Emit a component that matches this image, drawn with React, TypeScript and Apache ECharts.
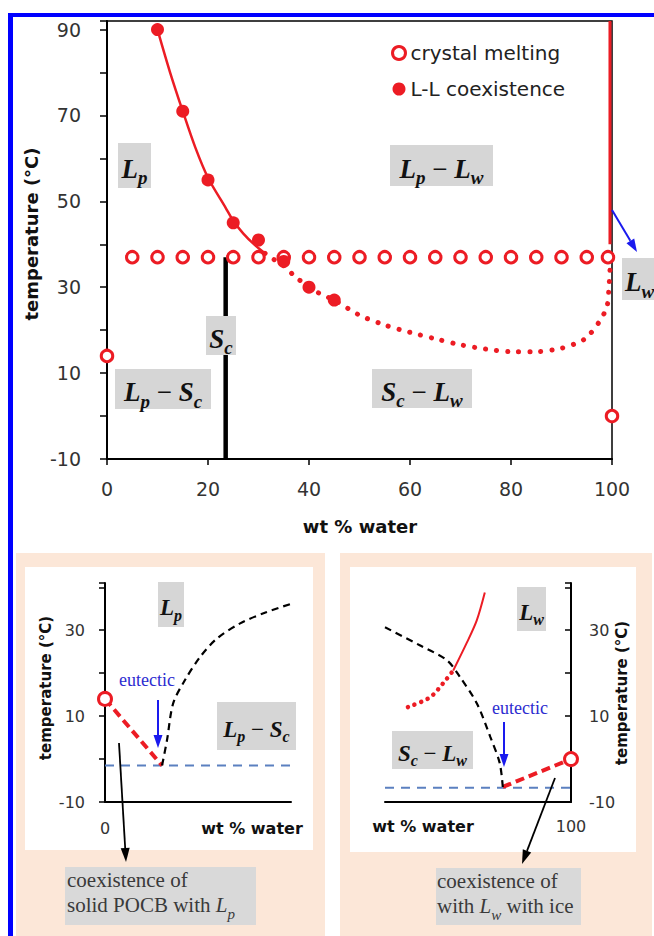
import React, { useEffect, useRef } from 'react';
import * as echarts from 'echarts';

const RED = '#ec1c24';
const BLUE = '#1a1aee';
const DASH_BLUE = '#5b80c0';
const SANS = 'DejaVu Sans';
const SERIF = 'Liberation Serif';

// ---- main diagram data ----
const crystalMelting: number[][] = [
  [0, 14], [5, 37], [10, 37], [15, 37], [20, 37], [25, 37], [30, 37], [35, 37], [40, 37], [45, 37],
  [50, 37], [55, 37], [60, 37], [65, 37], [70, 37], [75, 37], [80, 37], [85, 37], [90, 37], [95, 37],
  [99.2, 37], [100, 0],
];
const llCoexistence: number[][] = [
  [10, 90], [15, 71], [20, 55], [25, 45], [30, 41], [35, 36], [40, 30], [45, 27],
];
const llSolidFit: number[][] = [
  [10, 90], [12.5, 80], [15, 71], [17.5, 62.5], [20, 55.5], [23.5, 48.5], [25, 45.5], [27, 42.5], [29.3, 39.8], [31.3, 37.9],
];
const llDottedFit: number[][] = [
  [31.3, 37.9], [33, 36.5], [35, 35], [37.6, 32.1], [40, 30.3], [42, 28.6], [45, 27], [50, 23.5], [55, 21.2],
  [60, 19.5], [65, 18], [70, 16.6], [75, 15.6], [80, 15], [85, 15], [90, 15.8], [93, 17], [95, 18.3],
  [97.5, 22], [99, 25.5], [99.4, 30], [99.6, 34], [99.7, 37],
];
const waterEdge: number[][] = [[99.6, 40], [99.6, 92]];
const scPhase: number[][] = [[23.5, -10], [23.5, 37]];
const mainYLabels = [-10, 10, 30, 50, 70, 90];
const mainXLabels = [0, 20, 40, 60, 80, 100];

// ---- left inset data ----
const leftMelt: number[][] = [[0, 14]];
const leftLiquidus: number[][] = [[0, 14], [9.2, -1.5]];
const leftSolubility: number[][] = [
  [9.2, -1.5], [10, 4.4], [11, 13], [12.9, 18.4], [15.3, 23.7], [18, 28], [21.8, 31.6], [26, 34.2], [30.8, 36.5],
];
const leftEutectic: number[][] = [[0, -1.5], [30, -1.5]];
const insetYLabels = [-10, 10, 30];

// ---- right inset data ----
const rightMelt: number[][] = [[100, 0]];
const rightLiquidus: number[][] = [[89, -6.5], [100, 0]];
const rightSolubility: number[][] = [
  [70, 30.7], [75.6, 26.5], [80, 23], [82.1, 19.1], [84.8, 13], [87, 5.1], [88.5, -0.9], [89, -6.5],
];
const rightLLSolid: number[][] = [[81, 20.6], [83.2, 27.1], [84.8, 32.3], [86.1, 38.8]];
const rightLLDotted: number[][] = [[73.7, 12.1], [77.3, 14.4], [79.4, 17.7], [81, 20.6]];
const rightEutectic: number[][] = [[70, -6.7], [100, -6.7]];

function mathRich(F: number) {
  const fs = Math.round(F * 0.7);
  const d = Math.round(F * 0.33 + F / 2 - fs / 2);
  return {
    m: { fontFamily: SERIF, fontStyle: 'italic', fontWeight: 'bold', fontSize: F, lineHeight: F, verticalAlign: 'top', fill: '#111' },
    s: { fontFamily: SERIF, fontStyle: 'italic', fontWeight: 'bold', fontSize: fs, lineHeight: fs, verticalAlign: 'top', padding: [d, 0, 0, 0], fill: '#111' },
    o: { fontFamily: SERIF, fontSize: F, lineHeight: F, verticalAlign: 'top', fill: '#111' },
  };
}

function labelBox(x: number, y: number, w: number, h: number, text: string, F: number, leftAlign = false) {
  return [
    { type: 'rect', shape: { x, y, width: w, height: h }, style: { fill: '#d6d6d6' }, z: 10 },
    {
      type: 'text', z: 11, x: leftAlign ? x + 3 : x + w / 2, y: y + h / 2 + 3,
      style: { text, rich: mathRich(F), align: leftAlign ? 'left' : 'center', verticalAlign: 'middle' },
    },
  ];
}

function arrow(x1: number, y1: number, x2: number, y2: number, color: string, w: number, hl: number, hw: number) {
  const ang = Math.atan2(y2 - y1, x2 - x1);
  const bx = x2 - hl * Math.cos(ang);
  const by = y2 - hl * Math.sin(ang);
  const px = -Math.sin(ang);
  const py = Math.cos(ang);
  return [
    { type: 'line', shape: { x1, y1, x2: bx, y2: by }, style: { stroke: color, lineWidth: w }, z: 20 },
    {
      type: 'polygon', z: 20,
      shape: { points: [[x2, y2], [bx + (px * hw) / 2, by + (py * hw) / 2], [bx - (px * hw) / 2, by - (py * hw) / 2]] },
      style: { fill: color },
    },
  ];
}

function plainText(x: number, y: number, text: string, font: object, rotation = 0) {
  return { type: 'text', z: 12, x, y, rotation, style: { text, align: 'center', verticalAlign: 'middle', ...font } };
}

const boxRich = {
  t: { fontFamily: SERIF, fontSize: 21, lineHeight: 25, verticalAlign: 'top', fill: '#3a3a3a' },
  i: { fontFamily: SERIF, fontStyle: 'italic', fontSize: 21, lineHeight: 25, verticalAlign: 'top', fill: '#3a3a3a' },
  s: { fontFamily: SERIF, fontStyle: 'italic', fontSize: 15, lineHeight: 15, verticalAlign: 'top', padding: [12, 0, 0, 0], fill: '#3a3a3a' },
};

export default function App() {
  const ref = useRef<HTMLDivElement>(null);
  useEffect(() => {
    if (!ref.current) return;
    const chart = echarts.init(ref.current, null, { renderer: 'svg' });
    const axisLineStyle = { onZero: false, lineStyle: { color: '#000', width: 2 } };
    const insetYFormatter = (v: number) => (insetYLabels.includes(v) ? String(v) : '');
    const titleFont = (size: number) => ({ fontFamily: SANS, fontWeight: 'bold', fontSize: size, fill: '#111' });
    const option: any = {
      animation: false,
      backgroundColor: '#fff',
      textStyle: { fontFamily: SANS },
      legend: {
        orient: 'vertical', left: 386, top: 36, itemWidth: 13, itemHeight: 13, itemGap: 12,
        selectedMode: false,
        textStyle: { fontSize: 20, color: '#222', fontFamily: SANS, lineHeight: 24 },
        data: [
          { name: 'crystal melting', icon: 'circle', itemStyle: { color: '#fff', borderColor: RED, borderWidth: 3 } },
          { name: 'L-L coexistence', icon: 'circle', itemStyle: { color: RED } },
        ],
      },
      grid: [
        { left: 107, top: 21, width: 505, height: 438, show: true, borderColor: '#000', borderWidth: 1.5, backgroundColor: 'transparent' },
        { left: 105, top: 583, width: 186, height: 219 },
        { left: 385, top: 583, width: 186, height: 219 },
      ],
      xAxis: [
        {
          gridIndex: 0, type: 'value', min: 0, max: 100, interval: 20,
          axisLine: axisLineStyle, axisTick: { length: 6, lineStyle: { color: '#000', width: 1.5 } },
          axisLabel: { fontSize: 19, color: '#333', margin: 20, formatter: (v: number) => (mainXLabels.includes(v) ? String(v) : '') },
          splitLine: { show: false },
        },
        {
          gridIndex: 1, type: 'value', min: 0, max: 30, interval: 30,
          axisLine: axisLineStyle, axisTick: { show: false },
          axisLabel: { fontSize: 16, color: '#333', margin: 18, formatter: (v: number) => (v === 0 ? '0' : '') },
          splitLine: { show: false },
        },
        {
          gridIndex: 2, type: 'value', min: 70, max: 100, interval: 30,
          axisLine: axisLineStyle, axisTick: { show: false },
          axisLabel: { fontSize: 16, color: '#333', margin: 16, formatter: (v: number) => (v === 100 ? '100' : '') },
          splitLine: { show: false },
        },
      ],
      yAxis: [
        {
          gridIndex: 0, type: 'value', min: -10, max: 92, interval: 10,
          axisLine: { show: true, ...axisLineStyle }, axisTick: { show: true, length: 7, lineStyle: { color: '#000', width: 1.5 } },
          axisLabel: { fontSize: 19, color: '#333', margin: 26, formatter: (v: number) => (mainYLabels.includes(v) ? String(v) : '') },
          splitLine: { show: false },
        },
        {
          gridIndex: 1, type: 'value', min: -10, max: 41, interval: 10,
          axisLine: { show: true, ...axisLineStyle }, axisTick: { show: true, length: 6, lineStyle: { color: '#000', width: 1.5 } },
          axisLabel: { fontSize: 16, color: '#333', margin: 20, formatter: insetYFormatter },
          splitLine: { show: false },
        },
        {
          gridIndex: 2, type: 'value', position: 'right', min: -10, max: 41, interval: 10,
          axisLine: { show: true, ...axisLineStyle }, axisTick: { show: true, inside: true, length: 6, lineStyle: { color: '#000', width: 1.5 } },
          axisLabel: { fontSize: 16, color: '#333', margin: 18, formatter: insetYFormatter },
          splitLine: { show: false },
        },
      ],
      series: [
        // main
        { name: 'Sc', type: 'line', xAxisIndex: 0, yAxisIndex: 0, data: scPhase, showSymbol: false, lineStyle: { color: '#000', width: 4.5 }, z: 3 },
        { name: 'water edge', type: 'line', xAxisIndex: 0, yAxisIndex: 0, data: waterEdge, showSymbol: false, lineStyle: { color: RED, width: 3 }, z: 3 },
        { name: 'LL fit', type: 'line', xAxisIndex: 0, yAxisIndex: 0, data: llSolidFit, smooth: 0.3, showSymbol: false, lineStyle: { color: RED, width: 2.5 }, z: 3 },
        { name: 'LL dotted', type: 'line', xAxisIndex: 0, yAxisIndex: 0, data: llDottedFit, smooth: 0.3, showSymbol: false, lineStyle: { color: RED, width: 5, type: [0.1, 11], cap: 'round' }, z: 3 },
        { name: 'crystal melting', type: 'scatter', xAxisIndex: 0, yAxisIndex: 0, data: crystalMelting, symbolSize: 11.5, itemStyle: { color: '#fff', borderColor: RED, borderWidth: 3, opacity: 1 }, z: 4 },
        { name: 'L-L coexistence', type: 'scatter', xAxisIndex: 0, yAxisIndex: 0, data: llCoexistence, symbolSize: 13, itemStyle: { color: RED, opacity: 1 }, z: 5 },
        // left inset
        { name: 'left eutectic', type: 'line', xAxisIndex: 1, yAxisIndex: 1, data: leftEutectic, showSymbol: false, lineStyle: { color: DASH_BLUE, width: 2, type: [9, 7] }, z: 3 },
        { name: 'left liquidus', type: 'line', xAxisIndex: 1, yAxisIndex: 1, data: leftLiquidus, showSymbol: false, lineStyle: { color: RED, width: 4, type: [9, 5] }, z: 3 },
        { name: 'left solubility', type: 'line', xAxisIndex: 1, yAxisIndex: 1, data: leftSolubility, smooth: 0.3, clip: false, showSymbol: false, lineStyle: { color: '#000', width: 2.2, type: [7, 5] }, z: 3 },
        { name: 'left melt', type: 'scatter', xAxisIndex: 1, yAxisIndex: 1, data: leftMelt, symbolSize: 13, clip: false, itemStyle: { color: '#fff', borderColor: RED, borderWidth: 3, opacity: 1 }, z: 4 },
        // right inset
        { name: 'right eutectic', type: 'line', xAxisIndex: 2, yAxisIndex: 2, data: rightEutectic, showSymbol: false, lineStyle: { color: DASH_BLUE, width: 2, type: [9, 7] }, z: 3 },
        { name: 'right liquidus', type: 'line', xAxisIndex: 2, yAxisIndex: 2, data: rightLiquidus, showSymbol: false, lineStyle: { color: RED, width: 4, type: [9, 5] }, z: 3 },
        { name: 'right solubility', type: 'line', xAxisIndex: 2, yAxisIndex: 2, data: rightSolubility, smooth: 0.3, clip: false, showSymbol: false, lineStyle: { color: '#000', width: 2.2, type: [7, 5] }, z: 3 },
        { name: 'right LL', type: 'line', xAxisIndex: 2, yAxisIndex: 2, data: rightLLSolid, smooth: 0.3, showSymbol: false, lineStyle: { color: RED, width: 2 }, z: 3 },
        { name: 'right LL dotted', type: 'line', xAxisIndex: 2, yAxisIndex: 2, data: rightLLDotted, smooth: 0.3, showSymbol: false, lineStyle: { color: RED, width: 4.5, type: [0.1, 7], cap: 'round' }, z: 3 },
        { name: 'right melt', type: 'scatter', xAxisIndex: 2, yAxisIndex: 2, data: rightMelt, symbolSize: 13, clip: false, itemStyle: { color: '#fff', borderColor: RED, borderWidth: 3, opacity: 1 }, z: 4 },
      ],
      graphic: [
        // frame & panels
        { type: 'rect', z: -5, shape: { x: 16, y: 553, width: 309, height: 383 }, style: { fill: '#fce7d8' } },
        { type: 'rect', z: -5, shape: { x: 340, y: 553, width: 312, height: 383 }, style: { fill: '#fce7d8' } },
        { type: 'rect', z: -4, shape: { x: 25, y: 567, width: 288, height: 283 }, style: { fill: '#ffffff' } },
        { type: 'rect', z: -4, shape: { x: 350, y: 567, width: 286, height: 285 }, style: { fill: '#ffffff' } },
        { type: 'rect', z: 30, shape: { x: 8, y: 13, width: 646, height: 4 }, style: { fill: '#0000ff' } },
        { type: 'rect', z: 30, shape: { x: 8, y: 13, width: 5, height: 923 }, style: { fill: '#0000ff' } },
        // axis titles
        plainText(31, 234, 'temperature (°C)', titleFont(18), Math.PI / 2),
        plainText(360, 526, 'wt % water', titleFont(18)),
        plainText(46, 688, 'temperature (°C)', titleFont(15), Math.PI / 2),
        plainText(622, 693, 'temperature (°C)', titleFont(15), Math.PI / 2),
        plainText(252, 828, 'wt % water', titleFont(16)),
        plainText(423, 826, 'wt % water', titleFont(16)),
        // eutectic
        plainText(147, 680, 'eutectic', { fontFamily: SERIF, fontSize: 18, fill: '#2c2cd0' }),
        plainText(520, 708, 'eutectic', { fontFamily: SERIF, fontSize: 18, fill: '#2c2cd0' }),
        ...arrow(158, 700, 158, 748, BLUE, 2, 13, 9),
        ...arrow(504, 722, 504, 767, BLUE, 2, 13, 9),
        ...arrow(612, 210, 637, 252, BLUE, 2, 13, 9),
        ...arrow(119, 743, 126, 862, '#000', 1.8, 14, 9),
        ...arrow(555, 778, 522, 864, '#000', 1.8, 14, 9),
        // phase labels
        ...labelBox(118, 143, 33, 45, '{m|L}{s|p}', 27),
        ...labelBox(390, 145, 103, 41, '{m|L}{s|p}{o| − }{m|L}{s|w}', 27),
        ...labelBox(206, 316, 30, 39, '{m|S}{s|c}', 27),
        ...labelBox(115, 369, 96, 40, '{m|L}{s|p}{o| − }{m|S}{s|c}', 27),
        ...labelBox(372, 369, 100, 39, '{m|S}{s|c}{o| − }{m|L}{s|w}', 27),
        ...labelBox(622, 258, 40, 42, '{m|L}{s|w}', 27, true),
        ...labelBox(158, 582, 26, 45, '{m|L}{s|p}', 23),
        ...labelBox(217, 702, 79, 48, '{m|L}{s|p}{o| − }{m|S}{s|c}', 23),
        ...labelBox(517, 587, 29, 44, '{m|L}{s|w}', 23),
        ...labelBox(392, 731, 81, 38, '{m|S}{s|c}{o| − }{m|L}{s|w}', 23),
        // annotation boxes
        { type: 'rect', z: 10, shape: { x: 65, y: 867, width: 191, height: 58 }, style: { fill: '#d9d9d9' } },
        { type: 'text', z: 11, x: 67, y: 869, style: { align: 'left', verticalAlign: 'top', text: '{t|coexistence of}\n{t|solid POCB with }{i|L}{s|p}', rich: boxRich } },
        { type: 'rect', z: 10, shape: { x: 436, y: 868, width: 145, height: 57 }, style: { fill: '#d9d9d9' } },
        { type: 'text', z: 11, x: 437, y: 870, style: { align: 'left', verticalAlign: 'top', text: '{t|coexistence of}\n{t|with }{i|L}{s|w}{t| with ice}', rich: boxRich } },
      ],
    };
    chart.setOption(option);
    return () => chart.dispose();
  }, []);
  return <div ref={ref} style={{ position: 'absolute', left: 0, top: 0, width: 654, height: 936 }} />;
}
